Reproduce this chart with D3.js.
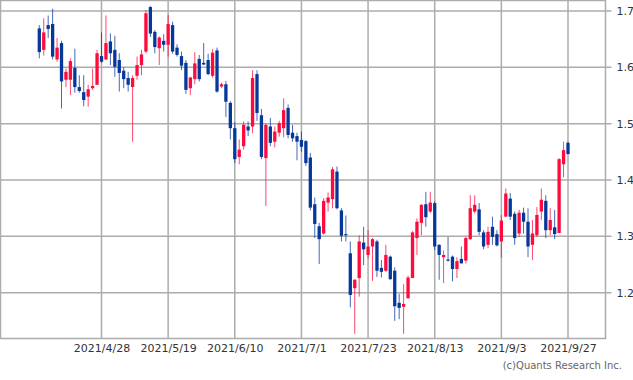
<!DOCTYPE html>
<html>
<head>
<meta charset="utf-8">
<script src="https://cdn.jsdelivr.net/npm/d3@7"></script>
<style>
	body{ margin: 0; background-color: white; }
	text{ font-family: "DejaVu Sans", Verdana, sans-serif; }
</style>
</head>
<body>
<svg id="chart" width="633" height="380"></svg>
<script>

// Trading calendar (US market days), the chart has one candle per day.
const firstDay = "2021-04-08";
const lastDay = "2021-09-27";
const holidays = ["2021-05-31", "2021-07-05", "2021-09-06"];

// Axis labels.
const tickDates = ["2021/4/28", "2021/5/19", "2021/6/10", "2021/7/1", "2021/7/23", "2021/8/13", "2021/9/3", "2021/9/27"];
const yTicks = [1.2, 1.3, 1.4, 1.5, 1.6, 1.7];

// OHLC.
const open = [
	1.669, 1.631, 1.675, 1.677, 1.614, 1.643, 1.578, 1.578, 1.599, 1.565,
	1.556, 1.548, 1.563, 1.569, 1.620, 1.614, 1.646, 1.631, 1.613, 1.594,
	1.581, 1.565, 1.585, 1.604, 1.628, 1.707, 1.663, 1.634, 1.647, 1.640,
	1.675, 1.635, 1.620, 1.608, 1.563, 1.579, 1.615, 1.608, 1.613, 1.585,
	1.630, 1.566, 1.570, 1.537, 1.492, 1.441, 1.460, 1.495, 1.495, 1.588,
	1.515, 1.439, 1.495, 1.468, 1.484, 1.492, 1.528, 1.484, 1.478, 1.471,
	1.469, 1.440, 1.357, 1.318, 1.305, 1.360, 1.366, 1.415, 1.346, 1.304,
	1.270, 1.208, 1.226, 1.289, 1.267, 1.282, 1.291, 1.244, 1.239, 1.264,
	1.239, 1.182, 1.175, 1.190, 1.226, 1.297, 1.324, 1.357, 1.344, 1.359,
	1.285, 1.263, 1.259, 1.264, 1.242, 1.260, 1.257, 1.295, 1.344, 1.348,
	1.307, 1.285, 1.317, 1.304, 1.291, 1.335, 1.367, 1.340, 1.305, 1.342,
	1.326, 1.285, 1.302, 1.344, 1.363, 1.311, 1.316, 1.306, 1.428, 1.466
];
const high = [
	1.675, 1.687, 1.692, 1.704, 1.652, 1.647, 1.598, 1.616, 1.633, 1.586,
	1.586, 1.569, 1.598, 1.631, 1.662, 1.692, 1.660, 1.656, 1.625, 1.600,
	1.592, 1.586, 1.619, 1.631, 1.702, 1.709, 1.666, 1.655, 1.659, 1.693,
	1.681, 1.641, 1.628, 1.613, 1.583, 1.627, 1.622, 1.643, 1.624, 1.632,
	1.635, 1.573, 1.576, 1.540, 1.503, 1.472, 1.504, 1.504, 1.595, 1.595,
	1.526, 1.500, 1.510, 1.495, 1.505, 1.545, 1.534, 1.498, 1.484, 1.486,
	1.471, 1.448, 1.369, 1.324, 1.368, 1.378, 1.423, 1.424, 1.350, 1.337,
	1.291, 1.224, 1.302, 1.317, 1.311, 1.297, 1.294, 1.258, 1.285, 1.266,
	1.245, 1.198, 1.215, 1.230, 1.309, 1.332, 1.357, 1.379, 1.379, 1.362,
	1.286, 1.275, 1.299, 1.266, 1.263, 1.282, 1.299, 1.373, 1.373, 1.359,
	1.311, 1.317, 1.335, 1.311, 1.338, 1.385, 1.377, 1.344, 1.347, 1.351,
	1.350, 1.329, 1.352, 1.385, 1.373, 1.350, 1.347, 1.439, 1.468, 1.468
];
const low = [
	1.616, 1.621, 1.652, 1.614, 1.610, 1.527, 1.565, 1.551, 1.555, 1.555,
	1.531, 1.530, 1.560, 1.569, 1.608, 1.613, 1.604, 1.583, 1.557, 1.563,
	1.557, 1.468, 1.578, 1.586, 1.625, 1.654, 1.625, 1.604, 1.628, 1.619,
	1.624, 1.619, 1.595, 1.553, 1.551, 1.570, 1.575, 1.604, 1.586, 1.582,
	1.555, 1.563, 1.512, 1.472, 1.430, 1.428, 1.454, 1.478, 1.483, 1.505,
	1.437, 1.354, 1.460, 1.458, 1.477, 1.476, 1.474, 1.468, 1.435, 1.450,
	1.425, 1.346, 1.297, 1.251, 1.303, 1.344, 1.350, 1.348, 1.291, 1.291,
	1.174, 1.127, 1.193, 1.249, 1.261, 1.221, 1.228, 1.227, 1.237, 1.223,
	1.150, 1.153, 1.127, 1.190, 1.226, 1.267, 1.302, 1.317, 1.341, 1.276,
	1.223, 1.217, 1.255, 1.220, 1.226, 1.252, 1.252, 1.294, 1.341, 1.302,
	1.277, 1.279, 1.285, 1.282, 1.262, 1.335, 1.329, 1.285, 1.299, 1.305,
	1.263, 1.258, 1.299, 1.329, 1.297, 1.302, 1.295, 1.306, 1.405, 1.446
];
const close = [
	1.627, 1.662, 1.668, 1.619, 1.635, 1.575, 1.592, 1.611, 1.565, 1.558,
	1.542, 1.561, 1.567, 1.625, 1.610, 1.643, 1.625, 1.601, 1.590, 1.579,
	1.569, 1.581, 1.604, 1.623, 1.696, 1.660, 1.636, 1.653, 1.640, 1.677,
	1.628, 1.622, 1.603, 1.560, 1.582, 1.607, 1.579, 1.605, 1.588, 1.626,
	1.557, 1.570, 1.539, 1.492, 1.437, 1.454, 1.498, 1.488, 1.581, 1.519,
	1.441, 1.498, 1.466, 1.486, 1.501, 1.524, 1.480, 1.474, 1.468, 1.459,
	1.430, 1.351, 1.322, 1.295, 1.363, 1.369, 1.419, 1.350, 1.301, 1.302,
	1.196, 1.223, 1.291, 1.277, 1.282, 1.295, 1.239, 1.237, 1.267, 1.224,
	1.176, 1.173, 1.180, 1.227, 1.307, 1.326, 1.356, 1.334, 1.360, 1.282,
	1.267, 1.267, 1.257, 1.242, 1.256, 1.252, 1.297, 1.350, 1.356, 1.308,
	1.282, 1.308, 1.299, 1.284, 1.328, 1.376, 1.335, 1.297, 1.342, 1.326,
	1.282, 1.305, 1.338, 1.365, 1.311, 1.329, 1.304, 1.437, 1.453, 1.446
];


// Build the list of trading days.
let parseDay = d3.timeParse("%Y-%m-%d");
let formatDay = d3.timeFormat("%Y-%m-%d");
let labelDay = d3.timeFormat("%Y/%-m/%-d");
let dates = d3.timeDay.range(parseDay(firstDay), d3.timeDay.offset(parseDay(lastDay), 1))
  .filter(d=>d.getDay() != 0 && d.getDay() != 6 && !holidays.includes(formatDay(d)));

let candles = dates.map((d,i)=>{
	return {i: i, date: d, o: open[i], h: high[i], l: low[i], c: close[i]}
}); // map


// Plot frame.
let frame = {left: 0.5, top: 0.5, right: 605.5, bottom: 338.5};

let svg = d3.select("#chart");

let x = d3.scaleLinear()
  .domain([0, dates.length-1])
  .range([39.3, 568]);

let y = d3.scaleLinear()
  .domain([1.2, 1.7])
  .range([292.7, 11]);

let tickIndex = tickDates.map(t=>dates.findIndex(d=>labelDay(d)==t));


// Gridlines.
let grid = svg.append("g").attr("class", "grid")
  .attr("stroke", "#acacac")
  .attr("stroke-width", 1.5);

grid.selectAll("line.h")
  .data(yTicks)
  .enter()
  .append("line")
    .attr("class", "h")
    .attr("x1", frame.left)
    .attr("x2", frame.right + 6)
    .attr("y1", d=>y(d))
    .attr("y2", d=>y(d));

grid.selectAll("line.v")
  .data(tickIndex)
  .enter()
  .append("line")
    .attr("class", "v")
    .attr("x1", d=>x(d))
    .attr("x2", d=>x(d))
    .attr("y1", frame.top)
    .attr("y2", frame.bottom);

svg.append("rect")
  .attr("x", frame.left)
  .attr("y", frame.top)
  .attr("width", frame.right - frame.left)
  .attr("height", frame.bottom - frame.top)
  .attr("fill", "none")
  .attr("stroke", "#acacac")
  .attr("stroke-width", 1.5);


// Axes, only the labels are kept.
let yaxis = svg.append("g")
  .attr("transform", `translate(${frame.right},0)`)
  .call(d3.axisRight(y).tickValues(yTicks).tickFormat(d3.format(".1f")).tickSize(0).tickPadding(11));

let xaxis = svg.append("g")
  .attr("transform", `translate(0,${frame.bottom})`)
  .call(d3.axisBottom(x).tickValues(tickIndex).tickFormat((d,j)=>tickDates[j]).tickSize(0).tickPadding(6));

[yaxis, xaxis].forEach(a=>{
	a.select(".domain").remove();
	a.selectAll("text")
	  .attr("fill", "#333")
	  .style("font-size", "11px")
	  .style("font-family", "\"DejaVu Sans\", Verdana, sans-serif");
}); // forEach


// Candles: red up, blue down.
let upColor = "#ff0a3c";
let downColor = "#06389c";
let colorOf = d=>(d.c >= d.o ? upColor : downColor);

let g = svg.append("g").attr("class", "candles");

g.selectAll("line")
  .data(candles)
  .enter()
  .append("line")
    .attr("x1", d=>x(d.i))
    .attr("x2", d=>x(d.i))
    .attr("y1", d=>y(d.h))
    .attr("y2", d=>y(d.l))
    .attr("stroke", colorOf)
    .attr("stroke-opacity", 0.75)
    .attr("stroke-width", 1);

g.selectAll("rect")
  .data(candles)
  .enter()
  .append("rect")
    .attr("x", d=>x(d.i) - 1.65)
    .attr("width", 3.3)
    .attr("y", d=>y(Math.max(d.o, d.c)))
    .attr("height", d=>Math.max(1.2, Math.abs(y(d.o) - y(d.c))))
    .attr("fill", colorOf);


// Copyright line.
svg.append("text")
  .attr("x", 622)
  .attr("y", 369)
  .attr("text-anchor", "end")
  .attr("fill", "#666")
  .style("font-size", "10px")
  .text("(c)Quants Research Inc.");

</script>
</body>
</html>
